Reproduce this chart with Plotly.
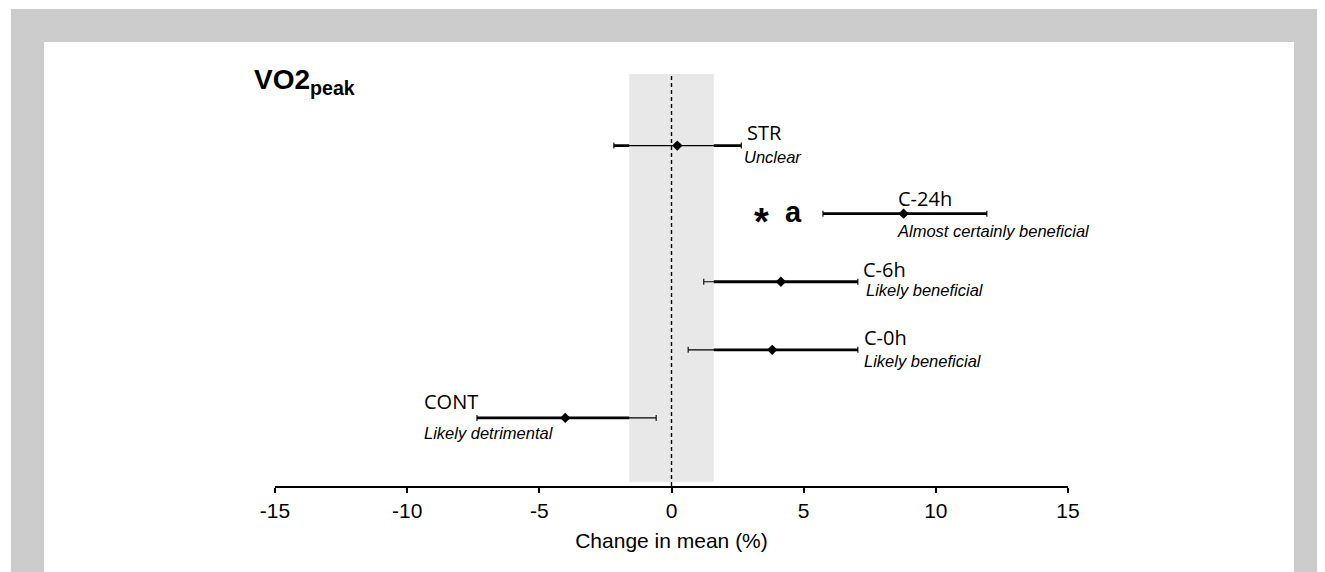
import plotly.graph_objects as go

# ---------------- data ----------------
groups = ["STR", "C-24h", "C-6h", "C-0h", "CONT"]
outcomes = ["Unclear", "Almost certainly beneficial", "Likely beneficial",
            "Likely beneficial", "Likely detrimental"]
mean_change = [0.22, 8.78, 4.14, 3.81, -4.02]
ci_lower = [-2.18, 5.73, 1.22, 0.63, -7.36]
ci_upper = [2.64, 11.93, 7.05, 7.05, -0.58]
smallest_worthwhile = 1.6
x_ticks = [-15, -10, -5, 0, 5, 10, 15]
row_pos = [5, 4, 3, 2, 1]

# ---------------- layout helpers (screen pixels; page has 8px body margin) ----
OFF = 8
W, H = 1325, 572
SX0, SX1 = 275, 1068
SY0, SY1 = 60, 486
L = SX0 - OFF
T = SY0 - OFF
PW = SX1 - SX0
PH = SY1 - SY0
R = W - L - PW
B = H - T - PH
Y_MAX = 6.257
BAND_Y0, BAND_Y1 = 0.06, 6.05


def px(xs):
    return (xs - SX0) / PW


def py(ys):
    return (SY1 - ys) / PH


# label layout
label_x = [2.79, 8.50, 7.18, 7.22, -9.43]
label_dy = [13, 15, 12.5, 12.6, 16.6]
sub_x = [2.66, 8.44, 7.30, 7.22, -9.43]
sub_dy = [-11, -17, -8, -10.7, -15]

SANS = "Arial, Liberation Sans, sans-serif"
LABEL_FONT = "Open Sans, Noto Sans, sans-serif"

fig = go.Figure()

# thick confidence-interval lines
tx, ty = [], []
for lo, hi, r in zip(ci_lower, ci_upper, row_pos):
    tx += [lo, hi, None]
    ty += [r, r, None]
fig.add_trace(go.Scatter(x=tx, y=ty, mode="lines",
                         line=dict(color="black", width=2.8),
                         hoverinfo="skip", showlegend=False))

# shaded band of trivial change
s = smallest_worthwhile
fig.add_trace(go.Scatter(x=[-s, s, s, -s, -s],
                         y=[BAND_Y0, BAND_Y0, BAND_Y1, BAND_Y1, BAND_Y0],
                         mode="lines", fill="toself", fillcolor="#e8e8e8",
                         line=dict(width=0, color="#e8e8e8"),
                         hoverinfo="skip", showlegend=False))

# thin CI with caps + point estimate
fig.add_trace(go.Scatter(
    x=mean_change, y=row_pos, mode="markers",
    marker=dict(symbol="diamond", size=8, color="black"),
    error_x=dict(type="data", symmetric=False,
                 array=[u - m for u, m in zip(ci_upper, mean_change)],
                 arrayminus=[m - l for m, l in zip(mean_change, ci_lower)],
                 color="black", thickness=1.1, width=3),
    hoverinfo="skip", showlegend=False))

# dashed zero line
fig.add_trace(go.Scatter(x=[0, 0], y=[0, BAND_Y1], mode="lines",
                         line=dict(color="black", width=1.4, dash="4px,3px"),
                         hoverinfo="skip", showlegend=False))

annotations = []
for g, o, r, lx, ldy, sx, sdy in zip(groups, outcomes, row_pos, label_x,
                                      label_dy, sub_x, sub_dy):
    annotations.append(dict(x=lx, y=r, xref="x", yref="y", text=g,
                            showarrow=False, xanchor="left", yanchor="middle",
                            yshift=ldy,
                            font=dict(family=LABEL_FONT, size=20, color="black")))
    annotations.append(dict(x=sx, y=r, xref="x", yref="y", text=f"<i>{o}</i>",
                            showarrow=False, xanchor="left", yanchor="middle",
                            yshift=sdy,
                            font=dict(family=SANS, size=16.5, color="black")))

# significance markers for C-24h
annotations.append(dict(x=3.39, y=4, xref="x", yref="y", text="<b>*</b>",
                        showarrow=False, xanchor="center", yanchor="middle",
                        yshift=-8, font=dict(family=SANS, size=38, color="black")))
annotations.append(dict(x=4.62, y=4, xref="x", yref="y", text="<b>a</b>",
                        showarrow=False, xanchor="center", yanchor="middle",
                        yshift=2, font=dict(family=SANS, size=29, color="black")))

# panel title
annotations.append(dict(x=px(252), y=py(81), xref="paper", yref="paper",
                        text="<b>VO2<sub>peak</sub></b>", showarrow=False,
                        xanchor="left", yanchor="middle",
                        font=dict(family=SANS, size=28, color="black")))

shapes = [
    dict(type="rect", xref="paper", yref="paper", layer="below",
         x0=px(11), x1=px(W + 20), y0=py(H + 20), y1=py(9),
         fillcolor="#cccccc", line=dict(width=0)),
    dict(type="rect", xref="paper", yref="paper", layer="below",
         x0=px(44), x1=px(1294), y0=py(H + 20), y1=py(42),
         fillcolor="white", line=dict(width=0)),
]

fig.update_layout(
    width=W, height=H,
    margin=dict(l=L, r=R, t=T, b=B, pad=0),
    paper_bgcolor="white", plot_bgcolor="rgba(0,0,0,0)",
    showlegend=False,
    annotations=annotations, shapes=shapes,
    font=dict(family=SANS, color="black"),
    xaxis=dict(range=[-15, 15], tickvals=x_ticks,
               ticktext=[str(t) for t in x_ticks],
               showline=True, linecolor="black", linewidth=2.4,
               ticks="outside", ticklen=5, tickwidth=2.4, tickcolor="black",
               showgrid=False, zeroline=False,
               tickfont=dict(family=SANS, size=21, color="black"),
               title=dict(text="Change in mean (%)", standoff=12,
                          font=dict(family=SANS, size=21, color="black"))),
    yaxis=dict(range=[0, Y_MAX], visible=False, showgrid=False, zeroline=False),
)

fig.write_html("out.html")
